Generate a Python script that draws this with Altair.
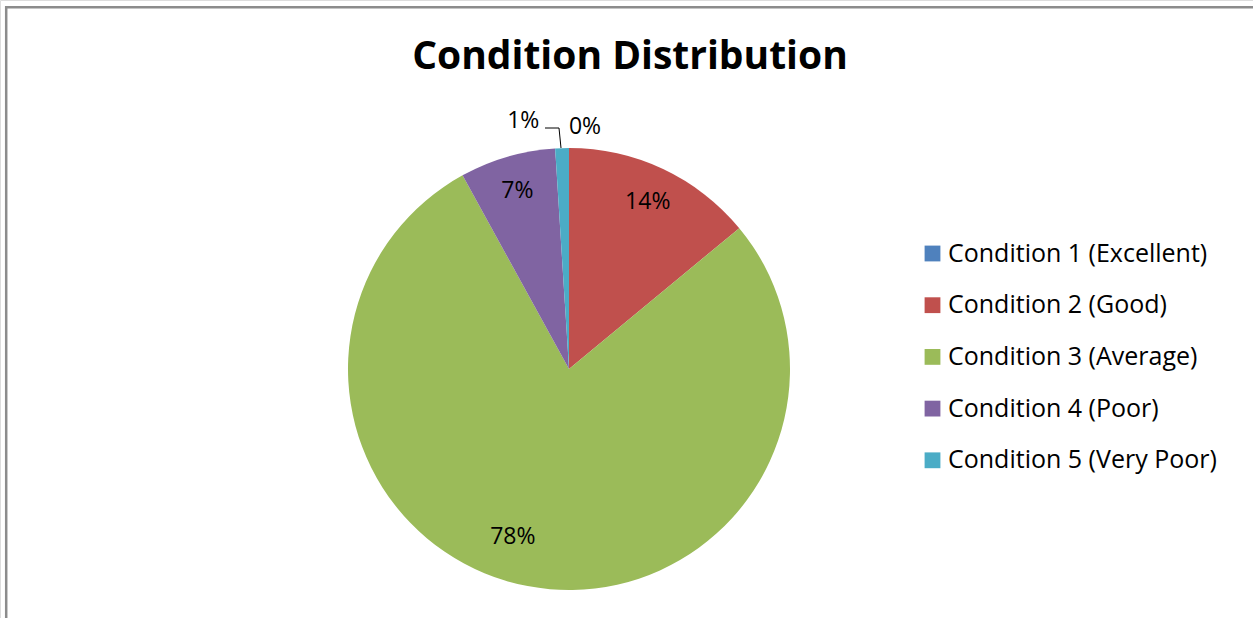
import altair as alt
import pandas as pd

# Share of assets in each condition band (percent)
categories = [
    "Condition 1 (Excellent)",
    "Condition 2 (Good)",
    "Condition 3 (Average)",
    "Condition 4 (Poor)",
    "Condition 5 (Very Poor)",
]
shares = [0, 14, 78, 7, 1]
colors = ["#4F81BD", "#C0504D", "#9BBB59", "#8064A2", "#4BACC6"]

df = pd.DataFrame({"category": categories, "share": shares, "order": range(len(categories))})
df["label"] = [f"{v}%" for v in df["share"]]

W, H = 1253, 618
CX, CY, R = 569, 369, 221
FONT = "Open Sans"

color = alt.Color(
    "category:N",
    scale=alt.Scale(domain=categories, range=colors),
    sort=categories,
    legend=alt.Legend(
        title=None,
        orient="none",
        legendX=920,
        legendY=241,
        symbolType="square",
        symbolSize=250,
        symbolStrokeWidth=0,
        labelFont=FONT,
        labelFontSize=25,
        labelColor="#000000",
        labelOffset=3,
        rowPadding=25.7,
        labelLimit=400,
    ),
)

base = alt.Chart(df).encode(
    theta=alt.Theta("share:Q", stack=True),
    order=alt.Order("order:Q"),
    x=alt.value(CX),
    y=alt.value(CY),
)

pie = base.mark_arc(outerRadius=R).encode(color=color)

text_style = dict(font=FONT, fontSize=23, color="#000000", align="center", baseline="middle")


def slice_label(names, **props):
    # every row stays in the layer so the stacked angles match the pie
    show = alt.FieldOneOfPredicate(field="category", oneOf=names)
    return base.mark_text(**text_style, **props).encode(
        text=alt.condition(show, "label:N", alt.value(""))
    )


inner_labels = slice_label([categories[1], categories[3]], radius=185)
big_label = slice_label([categories[2]], radius=177, dx=-23, dy=-6)
label_c5 = slice_label([categories[4]], radius=247, dx=-38, dy=-1)
label_c1 = slice_label([categories[0]], radius=242, dx=16)

# Leader line from the "1%" label down to the rim of its slice
lead_h = alt.Chart(df.head(1)).mark_rule(color="#000000", strokeWidth=1).encode(
    x=alt.value(545), x2=alt.value(559), y=alt.value(128), y2=alt.value(128)
)
lead_v = alt.Chart(df.head(1)).mark_rule(color="#000000", strokeWidth=1).encode(
    x=alt.value(559), x2=alt.value(561), y=alt.value(128), y2=alt.value(CY - R)
)

title = alt.Chart(df.head(1)).mark_text(
    text="Condition Distribution", font=FONT, fontSize=39, fontWeight="bold",
    color="#000000", align="center", baseline="alphabetic",
).encode(x=alt.value(630), y=alt.value(69))

# Frame along the top and left edges
frame_top = alt.Chart(df.head(1)).mark_rule(color="#8C8C8C", strokeWidth=2.5).encode(
    x=alt.value(5), x2=alt.value(W), y=alt.value(7.2), y2=alt.value(7.2)
)
frame_left = alt.Chart(df.head(1)).mark_rule(color="#8C8C8C", strokeWidth=2.5).encode(
    x=alt.value(6.2), x2=alt.value(6.2), y=alt.value(6), y2=alt.value(H)
)

chart = (
    alt.layer(pie, inner_labels, big_label, label_c5, label_c1, lead_h, lead_v, title, frame_top, frame_left)
    .properties(width=W, height=H, autosize=alt.AutoSizeParams(type="none"), padding=0)
    .configure_view(stroke=None)
    .configure(background="white")
)

chart.save("out.html", embed_options={"renderer": "svg", "actions": False})
